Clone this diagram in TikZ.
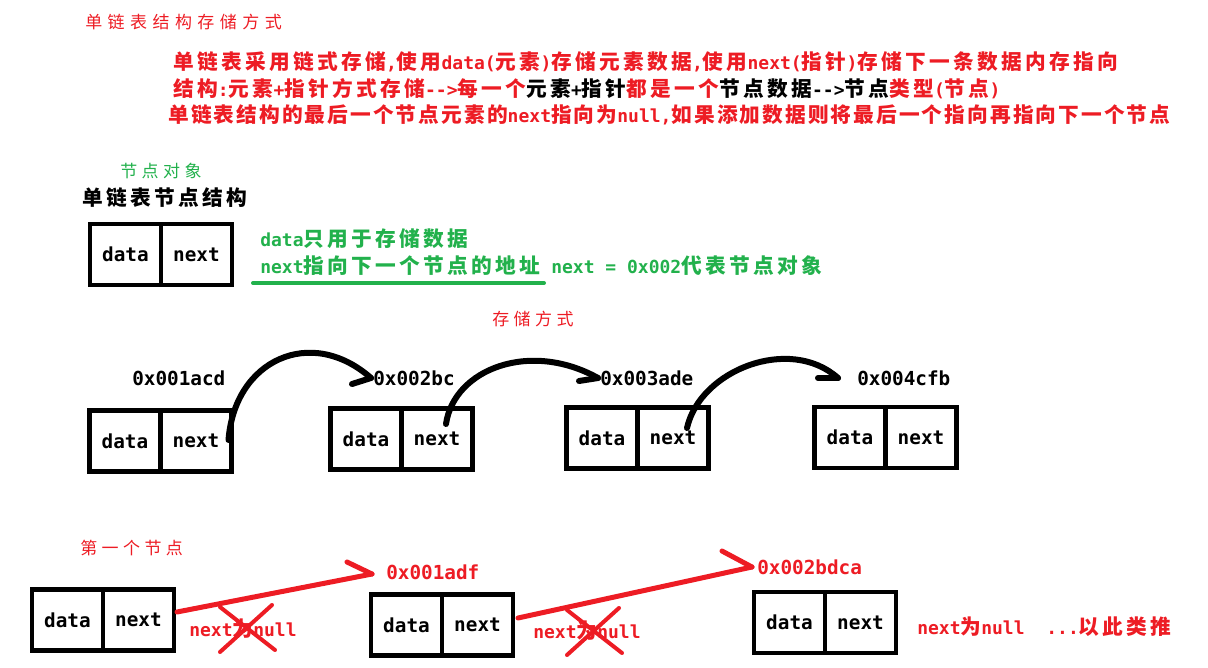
\documentclass[tikz,border=0pt]{standalone}
\usepackage{fontspec}
\usetikzlibrary{positioning,calc}
\newfontfamily\cjk[Scale=1.15, LetterSpace=16]{Noto Sans CJK SC}
\newfontfamily\cjktight[Scale=1.15, LetterSpace=10]{Noto Sans CJK SC}
\newfontfamily\kaiti[LetterSpace=26]{Noto Sans CJK SC}
\newfontfamily\lat[Ligatures=TeXOff]{DejaVu Sans Mono}
\let\zhfont\cjk
\newcommand{\zh}[1]{{\zhfont #1}}
\newcommand{\ltn}[1]{{\lat #1}}
\definecolor{paintred}{RGB}{237,28,36}
\definecolor{paintgreen}{RGB}{34,177,76}

\begin{document}
\begin{tikzpicture}[
  x=0.75pt, y=-0.75pt,
  cell/.style={draw, line width=3.3pt, outer sep=0pt, inner sep=0pt,
               minimum width=53.25pt, minimum height=45.75pt,
               font=\lat\bfseries\fontsize{14.5}{17}\selectfont},
  txt/.style={anchor=west, inner sep=0pt},
  body/.style={txt, font=\bfseries\fontsize{13.5}{16}\selectfont},
  kai/.style={txt, font=\kaiti\fontsize{12.75}{15}\selectfont},
  addr/.style={txt, font=\lat\bfseries\fontsize{14.5}{17}\selectfont},
  arc/.style={line width=4.5pt, line cap=round},
  redline/.style={draw=paintred, line width=3.75pt, line cap=round}
]
\useasboundingbox (0,0) rectangle (1208,668);

% heading and notes
\node[kai, text=paintred, font=\kaiti\fontsize{12.75}{15}\selectfont\addfontfeature{LetterSpace=32}]
  (title) at (85,22) {单链表结构存储方式};
\node[body, text=paintred] (l1) at (173,62)
  {\zh{单链表采用链式存储}\ltn{,}\zh{使用}\ltn{data(}\zh{元素}\ltn{)}\zh{存储元素数据}\ltn{,}\zh{使用}\ltn{next(}\zh{指针}\ltn{)}\zh{存储下一条数据内存指向}};
\node[body, text=paintred] (l2) at (173,89)
  {\zh{结构}\ltn{:}\zh{元素}\ltn{+}\zh{指针方式存储}\ltn{-->}\zh{每一个}\textcolor{black}{\zh{元素}\ltn{+}\zh{指针}}\zh{都是一个}\textcolor{black}{\zh{节点数据}\ltn{-->}\zh{节点}}\zh{类型}\ltn{(}\zh{节点}\ltn{)}};
\node[body, text=paintred] (l3) at (168,115)
  {\let\zhfont\cjktight\zh{单链表结构的最后一个节点元素的}\ltn{next}\zh{指向为}\ltn{null,}\zh{如果添加数据则将最后一个指向再指向下一个节点}};

% node structure
\node[kai, text=paintgreen] (obj) at (120,171) {节点对象};
\node[body] (struct) at (82,198) {\zh{单链表节点结构}};
\node[cell] (sd) at (125.5,254.5) {data};
\node[cell, right=0pt of sd] (sn) {next};
\node[body, text=paintgreen] (g1) at (260,239) {\ltn{data}\zh{只用于存储数据}};
\node[body, text=paintgreen] (g2) at (260,266)
  {\ltn{next}\zh{指向下一个节点的地址}\ltn{ next = 0x002}\zh{代表节点对象}};
\draw[paintgreen, line width=3pt, line cap=round] (253,283) -- (544,283);

% storage
\node[kai, text=paintred] (store) at (492,319) {存储方式};
\node[cell] (d1) at (125,441) {data};
\node[cell, right=0pt of d1] (n1) {next};
\node[cell] (d2) at (366,439) {data};
\node[cell, right=0pt of d2] (n2) {next};
\node[cell] (d3) at (602,438) {data};
\node[cell, right=0pt of d3] (n3) {next};
\node[cell] (d4) at (850,437.5) {data};
\node[cell, right=0pt of d4] (n4) {next};
\node[addr] (a1) at (132,378) {0x001acd};
\node[addr] (a2) at (373,378) {0x002bc};
\node[addr] (a3) at (600,378) {0x003ade};
\node[addr] (a4) at (857,378) {0x004cfb};

\coordinate (t2) at ($(a2.west)+(-2,0)$);
\coordinate (t3) at ($(a3.west)+(-2,0)$);
\coordinate (t4) at ($(a4.west)+(-19,0)$);
\draw[arc] ($(n1.east)+(-3,-1)$) .. controls +(6,-80) and +(-60,-53) .. (t2);
\draw[arc] (t2) -- +(-19,6);
\draw[arc] ($(n2.center)+(9,-15)$) .. controls +(8,-55) and +(-68,-38) .. (t3);
\draw[arc] (t3) -- +(-19,3);
\draw[arc] ($(n3.center)+(14,-10)$) .. controls +(13,-58) and +(-48,-43) .. (t4);
\draw[arc] (t4) -- +(-20,0);

% first node and appending
\node[kai, text=paintred] (first) at (80,548) {第一个节点};
\node[cell] (c1d) at (67.5,620) {data};
\node[cell, right=0pt of c1d] (c1n) {next};
\node[cell] (c2d) at (406.5,625) {data};
\node[cell, right=0pt of c2d] (c2n) {next};
\node[cell] (c3d) at (789.5,622.5) {data};
\node[cell, right=0pt of c3d] (c3n) {next};
\node[addr, text=paintred] (r1) at (386,572) {0x001adf};
\node[addr, text=paintred] (r2) at (757,567) {0x002bdca};

\coordinate (p1) at ($(r1.west)+(-14,2)$);
\coordinate (p2) at ($(r2.west)+(-5,0)$);
\draw[redline] ($(c1n.east)+(3,-8)$) -- (p1);
\draw[redline] (p1) -- +(-25,-12);
\draw[redline] ($(c2n.east)+(5,-7)$) -- (p2);
\draw[redline] (p2) -- +(-30,-16);

\node[body, text=paintred] (nn1) at (189,629) {\ltn{next}\zh{为}\ltn{null}};
\node[body, text=paintred] (nn2) at (533,631) {\ltn{next}\zh{为}\ltn{null}};
\node[body, text=paintred] (nn3) at (917,627) {\ltn{next}\zh{为}\ltn{null~~...}\zh{以此类推}};

\coordinate (x1) at (247,628);
\coordinate (x2) at (594,631);
\foreach \c in {x1,x2} {
  \draw[redline, line width=3pt] ($(\c)+(-27,-21)$) -- ($(\c)+(28,22)$);
  \draw[redline, line width=3pt] ($(\c)+(25,-23)$) -- ($(\c)+(-27,24)$);
}
\end{tikzpicture}
\end{document}
